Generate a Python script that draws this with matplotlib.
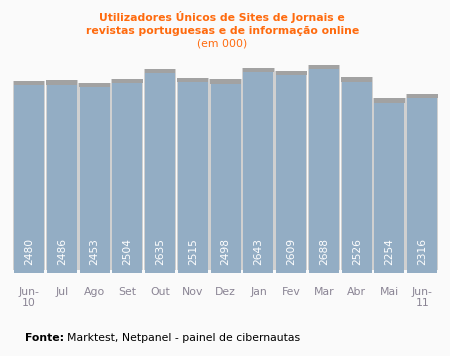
import numpy as np
import matplotlib.pyplot as plt

# data (unique users, in thousands)
months = ["Jun-\n10", "Jul", "Ago", "Set", "Out", "Nov", "Dez", "Jan", "Fev", "Mar", "Abr", "Mai", "Jun-\n11"]
users = [2480, 2486, 2453, 2504, 2635, 2515, 2498, 2643, 2609, 2688, 2526, 2254, 2316]

BG = '#fafafa'
BLUE = '#93adc4'
CAP = '#a2a2a2'
SIDE = '#d0d0d0'
ORANGE = '#ff6a0d'

fig = plt.figure(figsize=(4.5, 3.56), dpi=100, facecolor=BG)
ax = fig.add_axes([0.028, 0.2331, 0.9467, 0.598])
ax.set_facecolor(BG)

x = np.arange(len(months))
vals = np.array(users)
cap_h = 55

## light shadow behind each bar, then the blue bar, then the darker top cap
ax.bar(x, vals - 40, bottom=40, width=0.985, color=SIDE, linewidth=0)
ax.bar(x, vals - cap_h, width=0.915, color=BLUE, linewidth=0)
ax.bar(x, [cap_h] * len(x), bottom=vals - cap_h, width=0.94, color=CAP, linewidth=0)

for i, v in enumerate(users):
    ax.text(i, 105, str(v), rotation=90, ha='center', va='bottom', color='white', fontsize=7.7)

ax.set_xlim(-0.5, len(months) - 0.5)
ax.set_ylim(0, 2747)
ax.set_xticks(x)
ax.set_xticklabels(months, fontsize=7.8, color='#8a8494', linespacing=1.1)
ax.tick_params(axis='x', length=0, pad=10)
ax.set_yticks([])
for s in ax.spines.values():
    s.set_visible(False)

## title
fig.text(0.494, 1 - 17 / 356, "Utilizadores Únicos de Sites de Jornais e", ha='center', va='center',
         color=ORANGE, fontsize=7.8, fontweight='bold')
fig.text(0.494, 1 - 31 / 356, "revistas portuguesas e de informação online", ha='center', va='center',
         color=ORANGE, fontsize=7.8, fontweight='bold')
fig.text(0.494, 1 - 44 / 356, "(em 000)", ha='center', va='center', color=ORANGE, fontsize=7.8)

## footer: bold "Fonte:" followed by normal text
t1 = fig.text(25 / 450, 1 - 338 / 356, "Fonte:", ha='left', va='center', fontsize=7.8,
              fontweight='bold', color='black')
r = fig.canvas.get_renderer()
bb = t1.get_window_extent(renderer=r)
fig.text((bb.x1 + 3) / 450, 1 - 338 / 356, "Marktest, Netpanel - painel de cibernautas", ha='left',
         va='center', fontsize=7.8, color='black')

fig.savefig('out.png', dpi=100, facecolor=BG)
